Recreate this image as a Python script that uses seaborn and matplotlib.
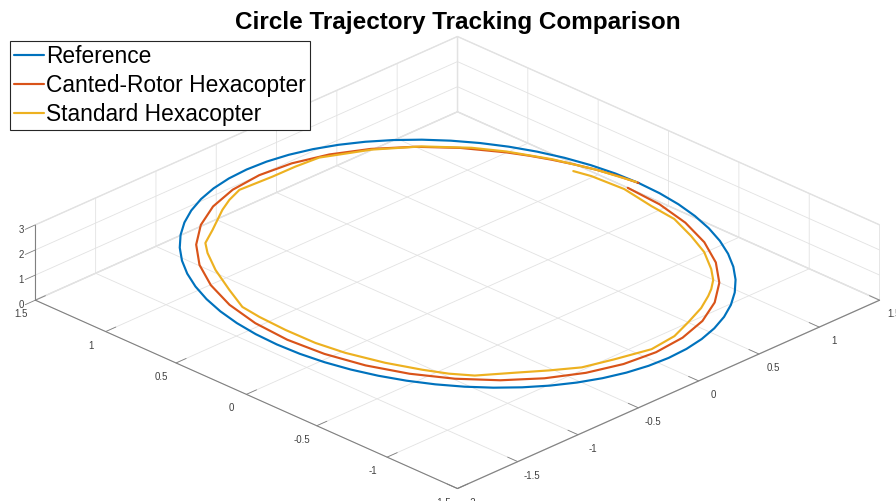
import numpy as np
import matplotlib
matplotlib.use("Agg")
import matplotlib.pyplot as plt
import seaborn as sns
from matplotlib.ticker import FixedLocator, FuncFormatter

# ---- trajectory data (metres) -------------------------------------------
# circle centre and flight altitude
center_x, center_y = -0.26, -0.01
altitude = 1.5

# reference circle
ref_radius = 1.5
ref_angles_deg = list(range(0, 361, 6))

# canted-rotor hexacopter, polar samples about the circle centre
canted_angles_deg = [0, 5, 10, 15, 20, 25, 30, 40, 50, 60, 70, 80, 90, 100,
                     110, 120, 130, 140, 150, 160, 170, 180, 190, 200, 210,
                     220, 230, 240, 250, 260, 270, 280, 290, 300, 310, 320,
                     330, 340, 350, 360]
canted_radius = [1.500, 1.485, 1.470, 1.455, 1.443, 1.434, 1.427, 1.419,
                 1.414, 1.412, 1.411, 1.410, 1.410, 1.410, 1.410, 1.410,
                 1.411, 1.412, 1.412, 1.413, 1.413, 1.413, 1.412, 1.412,
                 1.411, 1.410, 1.410, 1.410, 1.410, 1.410, 1.410, 1.410,
                 1.411, 1.411, 1.412, 1.412, 1.411, 1.410, 1.410, 1.410]

# standard hexacopter, polar samples about the circle centre
std_angles_deg = [0.6, 10, 20, 30, 37.6, 48.5, 59.9, 72.9, 80.4, 88.4, 99.1,
                  105.0, 110.6, 121.7, 128.8, 133.9, 142.7, 153.2, 162.0,
                  168.0, 176.4, 185.4, 193.5, 203.5, 212.4, 218.6, 224.5,
                  234.1, 242.4, 250.5, 259.8, 270.4, 279.5, 287.9, 296.1,
                  302.8, 306.5, 311.2, 316.7, 325.3, 333.6, 342.5, 350.3,
                  360.1, 369.2, 373.7]
std_radius = [1.500, 1.470, 1.450, 1.438, 1.432, 1.418, 1.403, 1.399, 1.369,
              1.352, 1.381, 1.366, 1.351, 1.339, 1.362, 1.352, 1.336, 1.334,
              1.361, 1.346, 1.332, 1.332, 1.331, 1.332, 1.341, 1.354, 1.358,
              1.323, 1.325, 1.344, 1.340, 1.370, 1.366, 1.350, 1.357, 1.365,
              1.372, 1.379, 1.376, 1.375, 1.368, 1.377, 1.358, 1.384, 1.386,
              1.379]

series_names = ["Reference", "Canted-Rotor Hexacopter", "Standard Hexacopter"]
series_colors = ["#0072BD", "#D95319", "#EDB120"]

x_ticks = [-2, -1.5, -1, -0.5, 0, 0.5, 1, 1.5]
y_ticks = [-1.5, -1, -0.5, 0, 0.5, 1, 1.5]
z_ticks = [0, 1, 2, 3]


def polar_to_xyz(angles_deg, radius):
    t = np.deg2rad(np.asarray(angles_deg, dtype=float))
    r = np.asarray(radius, dtype=float)
    x = center_x + r * np.cos(t)
    y = center_y + r * np.sin(t)
    z = np.full_like(x, altitude)
    return x, y, z


sns.set_theme(style="white", rc={
    "grid.color": "#e2e2e2",
    "grid.linewidth": 0.6,
    "xtick.color": "#808080",
    "ytick.color": "#808080",
    "xtick.major.width": 0.6,
    "ytick.major.width": 0.6,
    "axes.unicode_minus": False,
    "text.color": "black",
})
plt.rcParams["font.family"] = ["Liberation Sans", "DejaVu Sans"]
palette = sns.color_palette(series_colors)

fig = plt.figure(figsize=(8.96, 5.01), dpi=100)
ax = fig.add_axes([0.2234, -0.0375, 0.5592, 1.0], projection="3d",
                  proj_type="ortho")
ax.set_box_aspect((1, 1, 0.141), zoom=1.644)
ax.view_init(elev=26.5, azim=-135)

paths = [
    polar_to_xyz(ref_angles_deg, [ref_radius] * len(ref_angles_deg)),
    polar_to_xyz(canted_angles_deg, canted_radius),
    polar_to_xyz(std_angles_deg, std_radius),
]
for (x, y, z), name, col in zip(paths, series_names, palette):
    ax.plot(x, y, z, color=col, lw=1.55, label=name, clip_on=False)

ax.set_xlim(x_ticks[0], x_ticks[-1])
ax.set_ylim(y_ticks[0], y_ticks[-1])
ax.set_zlim(z_ticks[0], z_ticks[-1])
fmt = FuncFormatter(lambda v, p: f"{v:g}")
for axis, ticks in ((ax.xaxis, x_ticks), (ax.yaxis, y_ticks),
                    (ax.zaxis, z_ticks)):
    axis.set_major_locator(FixedLocator(ticks))
    axis.set_major_formatter(fmt)
    axis.set_pane_color((1, 1, 1, 1))
    axis.pane.set_edgecolor("#e2e2e2")
    axis.line.set_color("#808080")
    axis.line.set_linewidth(0.8)
    axis._axinfo["tick"]["inward_factor"] = 0.0
    axis._axinfo["tick"]["outward_factor"] = 0.3
    axis._axinfo["tick"]["linewidth"] = {True: 0.6, False: 0.4}
# z ticks point away from the box
ax.zaxis._axinfo["tick"]["inward_factor"] = 0.3
ax.zaxis._axinfo["tick"]["outward_factor"] = 0.0
ax.tick_params(labelsize=7, labelcolor="#404040", width=0.6)
ax.xaxis.set_tick_params(pad=-1.5)
ax.yaxis.set_tick_params(pad=-1.5)
ax.zaxis.set_tick_params(pad=-4.8)
ax.grid(True)

leg = ax.legend(loc="upper left", bbox_to_anchor=(0.0112, 0.918),
                bbox_transform=fig.transFigure, fontsize=16.4,
                frameon=True, fancybox=False, framealpha=1,
                edgecolor="#262626", borderaxespad=0, labelspacing=0.25,
                handlelength=1.3, handletextpad=0.12, borderpad=0.18)
leg.get_frame().set_linewidth(0.8)
for txt in leg.get_texts():
    txt.set_color("black")

fig.text(0.511, 1 - 22 / 501, "Circle Trajectory Tracking Comparison",
         ha="center", va="center", fontsize=17.5, fontweight="bold",
         color="black")

fig.savefig("out.png", dpi=100)
